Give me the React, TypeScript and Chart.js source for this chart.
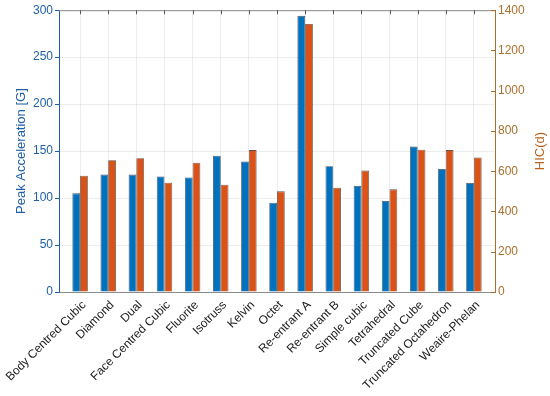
import React, { useEffect, useRef } from "react";
import { Chart, registerables } from "chart.js";

Chart.register(...registerables);

const categories = [
  "Body Centred Cubic",
  "Diamond",
  "Dual",
  "Face Centred Cubic",
  "Fluorite",
  "Isotruss",
  "Kelvin",
  "Octet",
  "Re-entrant A",
  "Re-entrant B",
  "Simple cubic",
  "Tetrahedral",
  "Truncated Cube",
  "Truncated Octahedron",
  "Weaire-Phelan",
];
const peakAcceleration = [105, 125, 125, 123, 122, 145, 139, 95, 294, 134, 113, 97, 155, 131, 116];
const hicValues = [578, 655, 665, 543, 642, 533, 705, 500, 1332, 518, 603, 510, 707, 705, 668];
const leftTickValues = [0, 50, 100, 150, 200, 250, 300];
const rightTickValues = [0, 200, 400, 600, 800, 1000, 1200, 1400];

const FONT = '"Liberation Sans", Arial, Helvetica, sans-serif';
const BLUE = "#0072BD";
const ORANGE = "#D95319";
const LEFT_TEXT = "#1f5fa8";
const RIGHT_TEXT = "#a8702c";
const RIGHT_TITLE = "#b8621e";
const GRID = "rgba(0,0,0,0.07)";

const boxPlugin = {
  id: "matlabBox",
  afterDraw(chart: any) {
    const { ctx, chartArea, scales } = chart;
    const x = scales.x;
    const y1 = scales.y1;
    ctx.save();
    ctx.strokeStyle = "#8a8a8a";
    ctx.lineWidth = 1;
    ctx.beginPath();
    ctx.moveTo(chartArea.left, chartArea.top + 0.5);
    ctx.lineTo(chartArea.right, chartArea.top + 0.5);
    ctx.stroke();
    ctx.strokeStyle = "#555";
    ctx.beginPath();
    categories.forEach((_, i) => {
      const px = Math.round(x.getPixelForValue(i + 1)) + 0.5;
      ctx.moveTo(px, chartArea.top);
      ctx.lineTo(px, chartArea.top + 4);
    });
    ctx.stroke();
    ctx.strokeStyle = RIGHT_TEXT;
    ctx.beginPath();
    rightTickValues.forEach((v) => {
      const py = Math.round(y1.getPixelForValue(v)) + 0.5;
      ctx.moveTo(chartArea.right, py);
      ctx.lineTo(chartArea.right - 4, py);
    });
    ctx.stroke();
    ctx.translate(y1.right - 10, (chartArea.top + chartArea.bottom) / 2);
    ctx.rotate(-Math.PI / 2);
    ctx.fillStyle = RIGHT_TITLE;
    ctx.font = `13px ${FONT}`;
    ctx.textAlign = "center";
    ctx.textBaseline = "middle";
    ctx.fillText("HIC(d)", 0, 0);
    ctx.restore();
  },
};

export default function App() {
  const ref = useRef<HTMLCanvasElement | null>(null);

  useEffect(() => {
    if (!ref.current) return;
    const chart = new Chart(ref.current, {
      type: "bar",
      data: {
        datasets: [
          {
            label: "Peak Acceleration [G]",
            data: peakAcceleration.map((v, i) => ({ x: i + 1, y: v })),
            backgroundColor: BLUE,
            borderColor: "rgba(20,20,40,0.75)",
            borderWidth: 0.8,
            yAxisID: "y",
            categoryPercentage: 0.55,
            barPercentage: 1,
          },
          {
            label: "HIC(d)",
            data: hicValues.map((v, i) => ({ x: i + 1, y: v })),
            backgroundColor: ORANGE,
            borderColor: "rgba(40,20,10,0.75)",
            borderWidth: 0.8,
            yAxisID: "y1",
            categoryPercentage: 0.55,
            barPercentage: 1,
          },
        ] as any,
      },
      options: {
        animation: false,
        responsive: false,
        layout: { padding: { top: 10, left: 0, right: 0, bottom: 0 } },
        plugins: {
          legend: { display: false },
          tooltip: { enabled: false },
        },
        scales: {
          x: {
            type: "linear",
            min: 0.25,
            max: 15.75,
            bounds: "data",
            offset: false,
            afterBuildTicks: (s: any) => {
              s.ticks = categories.map((_, i) => ({ value: i + 1 }));
            },
            afterFit: (s: any) => {
              s.height = 104;
              s.paddingLeft = 0;
              s.paddingRight = 0;
            },
            ticks: {
              autoSkip: false,
              minRotation: 45,
              maxRotation: 45,
              padding: 6,
              labelOffset: 4,
              color: "#1a1a1a",
              font: { family: FONT, size: 12 },
              callback: (v: any) => categories[Math.round(Number(v)) - 1] ?? "",
            },
            grid: { color: GRID, drawTicks: false, offset: false },
            border: { color: "#8a8a8a" },
          },
          y: {
            type: "linear",
            position: "left",
            min: 0,
            max: 300,
            afterBuildTicks: (s: any) => {
              s.ticks = leftTickValues.map((v) => ({ value: v }));
            },
            afterFit: (s: any) => {
              s.width = 59;
            },
            ticks: {
              color: LEFT_TEXT,
              padding: 2,
              font: { family: FONT, size: 12 },
            },
            grid: { color: GRID, tickColor: LEFT_TEXT, tickLength: 4 },
            border: { color: LEFT_TEXT },
            title: {
              display: true,
              text: "Peak Acceleration [G]",
              color: LEFT_TEXT,
              font: { family: FONT, size: 13 },
              padding: { top: 14, bottom: 0 },
            },
          },
          y1: {
            type: "linear",
            position: "right",
            min: 0,
            max: 1400,
            afterBuildTicks: (s: any) => {
              s.ticks = rightTickValues.map((v) => ({ value: v }));
            },
            afterFit: (s: any) => {
              s.width = 55;
            },
            ticks: {
              color: RIGHT_TEXT,
              padding: 3,
              font: { family: FONT, size: 12 },
              callback: (v: any) => String(v),
            },
            grid: { drawOnChartArea: false, drawTicks: false },
            border: { color: RIGHT_TEXT },
          },
        },
      } as any,
      plugins: [boxPlugin],
    });
    return () => chart.destroy();
  }, []);

  return (
    <div style={{ position: "fixed", left: 0, top: 0, width: 550, height: 396, background: "#fff" }}>
      <canvas ref={ref} width={550} height={396} style={{ display: "block" }} />
    </div>
  );
}
